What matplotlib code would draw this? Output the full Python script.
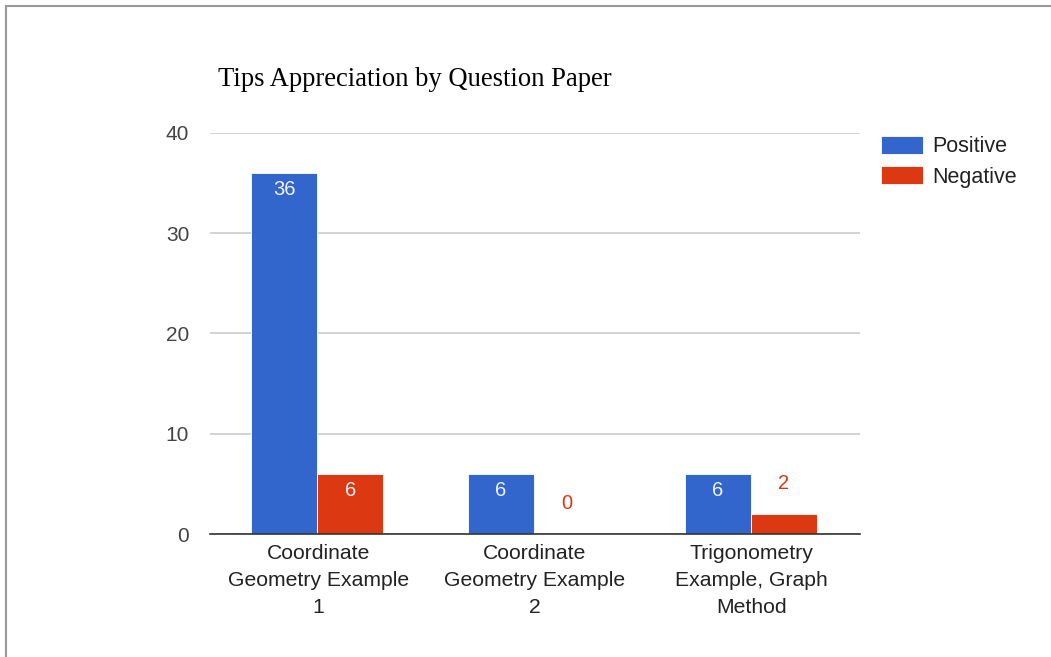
import numpy as np
import matplotlib
matplotlib.use("Agg")
import matplotlib.pyplot as plt
from matplotlib.lines import Line2D

# data
categories = ["Coordinate\nGeometry Example\n1",
              "Coordinate\nGeometry Example\n2",
              "Trigonometry\nExample, Graph\nMethod"]
positive = [36, 6, 6]
negative = [6, 0, 2]
series_names = ["Positive", "Negative"]
y_ticks = [0, 10, 20, 30, 40]

blue = "#3366cc"
red = "#dc3912"
label_font = "Liberation Sans"

fig = plt.figure(figsize=(10.51, 6.57), dpi=100)
ax = fig.add_axes([0.1998, 0.1872, 0.6185, 0.6104])

# frame around the whole card (only top and left show in the crop)
fig.add_artist(Line2D([0.006, 0.006], [0.0, 0.991], color="#999999", lw=1.5,
                      transform=fig.transFigure))
fig.add_artist(Line2D([0.006, 1.0], [0.991, 0.991], color="#999999", lw=1.5,
                      transform=fig.transFigure))

x = np.arange(len(categories))
w = 0.305
bars_pos = ax.bar(x - w / 2 - 0.005, positive, width=w, color=blue, label=series_names[0],
                  edgecolor="white", linewidth=0.6, zorder=3)
bars_neg = ax.bar(x + w / 2 - 0.005, negative, width=w, color=red, label=series_names[1],
                  edgecolor="white", linewidth=0.6, zorder=3)

# value labels: inside the bar when it is tall enough, otherwise above it
def annotate(bars, values, color):
    for b, v in zip(bars, values):
        cx = b.get_x() + b.get_width() / 2
        if v >= 4:
            ax.annotate(str(v), (cx, v), xytext=(0, -5), textcoords="offset points",
                        ha="center", va="top", color="#eef2fb", fontsize=14.5,
                        family=label_font, zorder=4)
        else:
            ax.annotate(str(v), (cx, v), xytext=(0, 15), textcoords="offset points",
                        ha="center", va="bottom", color=color, fontsize=14.5,
                        family=label_font, zorder=4)

annotate(bars_pos, positive, blue)
annotate(bars_neg, negative, red)

ax.set_xlim(-0.5, 2.5)
ax.set_ylim(0, 40)
ax.set_yticks(y_ticks)
ax.set_yticklabels([str(t) for t in y_ticks], family=label_font, fontsize=15,
                   color="#444444")
ax.set_xticks(x)
ax.set_xticklabels(categories, family=label_font, fontsize=15.2, color="#222222",
                   linespacing=1.55)
ax.tick_params(axis="both", length=0)
ax.tick_params(axis="y", pad=15)
ax.tick_params(axis="x", pad=7)

ax.grid(axis="y", color="#cccccc", linewidth=1.2, zorder=0)
for s in ["top", "right", "left"]:
    ax.spines[s].set_visible(False)
ax.spines["bottom"].set_color("#333333")
ax.spines["bottom"].set_linewidth(1.2)
ax.spines["bottom"].set_zorder(5)

fig.text(218 / 1051, 1 - 80 / 657, "Tips Appreciation by Question Paper",
         family="Liberation Serif", fontsize=19.2, color="black", va="center", ha="left")

leg = ax.legend(loc="upper left", bbox_to_anchor=(1.019, 1.015), frameon=False,
                prop={"family": label_font, "size": 15.5}, handlelength=1.95,
                handleheight=0.93, handletextpad=0.42, labelspacing=0.41,
                borderaxespad=0)
for t in leg.get_texts():
    t.set_color("#222222")

fig.savefig("out.png", dpi=100)
